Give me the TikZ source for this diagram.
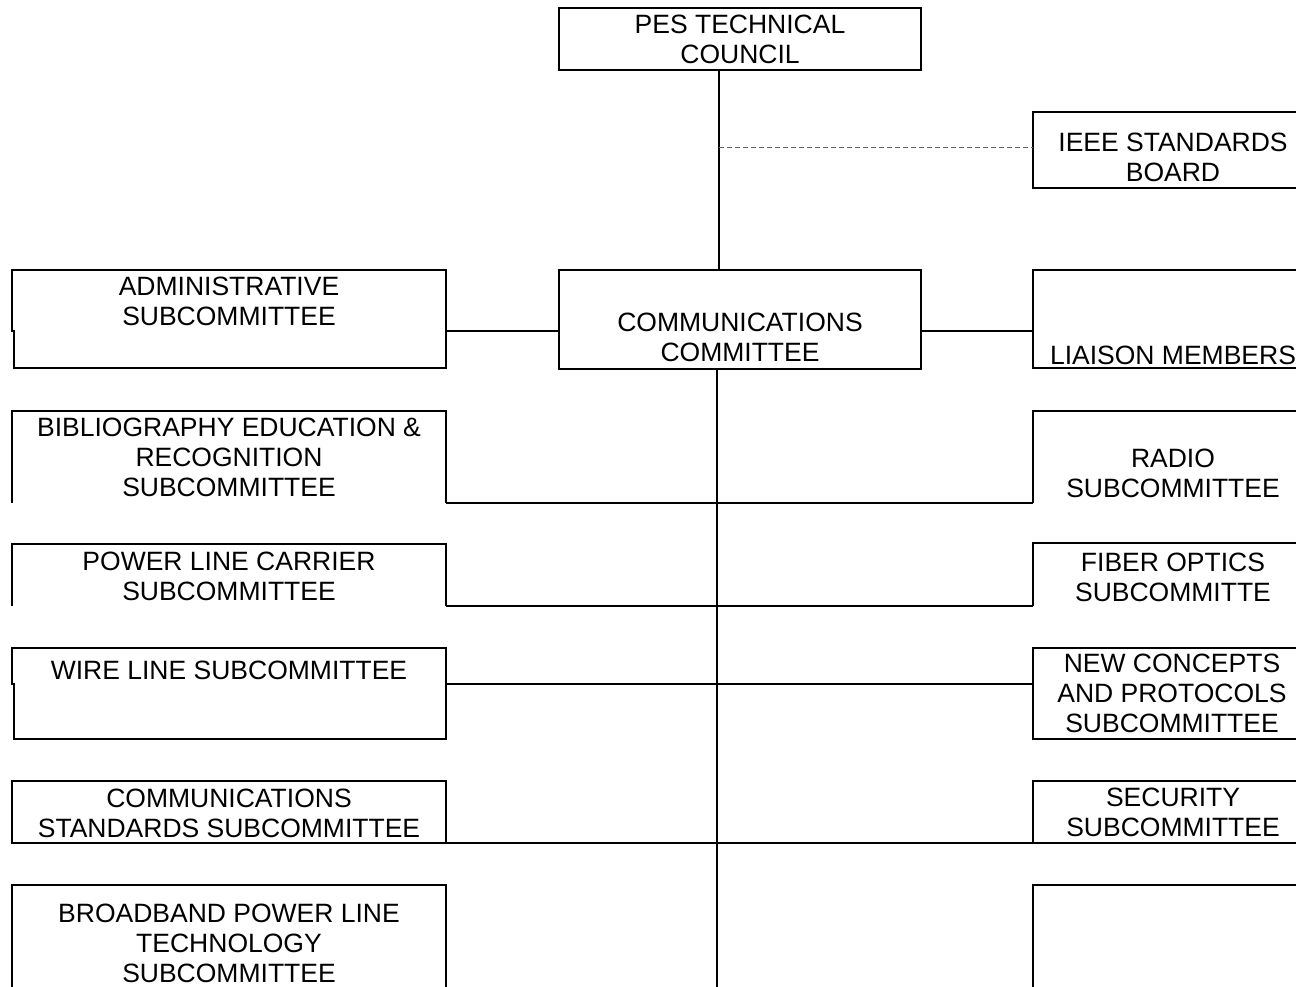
\documentclass[tikz,border=0pt]{standalone}
\usepackage{fontspec}
\setmainfont{Liberation Sans}
\begin{document}
\begin{tikzpicture}[x=1pt,y=-1pt,
  boxn/.style={rectangle, draw, line width=2.1pt, inner sep=0pt, outer sep=0pt},
  openbox/.style={rectangle, inner sep=0pt, outer sep=0pt},
  outline/.style={line width=2.1pt, line join=miter},
  conn/.style={line width=2.1pt},
  dashconn/.style={dash pattern=on 5pt off 3pt, line width=1pt, black!60},
  lbl/.style={align=center, inner sep=0pt, outer sep=0pt, font=\fontsize{26.5}{30}\selectfont}]
\useasboundingbox (0,0) rectangle (1296,987);
\clip (0,0) rectangle (1296,987);

% ---------- boxes ----------
\node[boxn, minimum width=362pt, minimum height=62pt] (pes) at (740,39) {};
\node[boxn, minimum width=362pt, minimum height=99pt] (comm) at (740,319.5) {};
\node[boxn, minimum width=280pt, minimum height=76pt] (ieee) at (1173,150) {};
\node[boxn, minimum width=280pt, minimum height=98pt] (liaison) at (1173,319) {};
\node[openbox, minimum width=434pt, minimum height=98pt] (admin) at (229,319) {};
\node[openbox, minimum width=434pt, minimum height=92pt] (bib) at (229,457) {};
\node[openbox, minimum width=434pt, minimum height=62pt] (plc) at (229,575) {};
\node[openbox, minimum width=434pt, minimum height=91pt] (wire) at (229,693.5) {};
\node[boxn, minimum width=434pt, minimum height=62pt] (cstd) at (229,812) {};
\node[boxn, minimum width=434pt, minimum height=116pt] (bpl) at (229,943) {};
\node[openbox, minimum width=280pt, minimum height=92pt] (radio) at (1173,457) {};
\node[openbox, minimum width=280pt, minimum height=63pt] (fiber) at (1173,574.5) {};
\node[boxn, minimum width=280pt, minimum height=91pt] (newc) at (1173,693.5) {};
\node[boxn, minimum width=280pt, minimum height=62pt] (sec) at (1173,812) {};
\node[boxn, minimum width=280pt, minimum height=116pt] (empty) at (1173,943) {};

% outlines of the boxes that are drawn open or with a step on the left
\draw[outline] (12,331) -- (12,270) -- (446,270) -- (446,368) -- (14,368) -- (14,331) -- cycle;
\draw[outline] (12,684) -- (12,648) -- (446,648) -- (446,739) -- (14,739) -- (14,684) -- cycle;
\draw[outline] (bib.south west) |- (bib.north east) -- (bib.south east);
\draw[outline] (plc.south west) |- (plc.north east) -- (plc.south east);
\draw[outline] (radio.south west) |- (radio.north east);
\draw[outline] (fiber.south west) |- (fiber.north east);

% ---------- texts ----------
\node[lbl] (pesT) at (740,39.5) {PES TECHNICAL\\COUNCIL};
\node[lbl] (commT) at (740,337) {COMMUNICATIONS\\COMMITTEE};
\node[lbl] (ieeeT) at (1173,157) {IEEE STANDARDS\\BOARD};
\node[lbl] (liaisonT) at (1173,355.5) {LIAISON MEMBERS};
\node[lbl] (adminT) at (229,301) {ADMINISTRATIVE\\SUBCOMMITTEE};
\node[lbl] (bibT) at (229,457.5) {BIBLIOGRAPHY EDUCATION \&\\RECOGNITION\\SUBCOMMITTEE};
\node[lbl] (plcT) at (229,576) {POWER LINE CARRIER\\SUBCOMMITTEE};
\node[lbl] (wireT) at (229,670) {WIRE LINE SUBCOMMITTEE};
\node[lbl] (cstdT) at (229,813) {COMMUNICATIONS\\STANDARDS SUBCOMMITTEE};
\node[lbl] (bplT) at (229,943) {BROADBAND POWER LINE\\TECHNOLOGY\\SUBCOMMITTEE};
\node[lbl] (radioT) at (1173,473) {RADIO\\SUBCOMMITTEE};
\node[lbl] (fiberT) at (1173,577) {FIBER OPTICS\\SUBCOMMITTE};
\node[lbl] (newcT) at (1172,693) {NEW CONCEPTS\\AND PROTOCOLS\\SUBCOMMITTEE};
\node[lbl] (secT) at (1173,812.5) {SECURITY\\SUBCOMMITTEE};

% ---------- connectors ----------
\coordinate (rowA) at (0,331);
\coordinate (rowW) at (0,684);
\coordinate (trunkend) at (717,987);
\draw[conn] ([xshift=-21pt]pes.south) -- ([xshift=-21pt]comm.north);
\draw[dashconn] ([xshift=-21pt]pes.south |- 0,148) -- (ieee.west |- 0,148);
\draw[conn] (admin.east |- rowA) -- (comm.west |- rowA);
\draw[conn] (comm.east |- rowA) -- (liaison.west |- rowA);
\draw[conn] ([xshift=-23pt]comm.south) -- (trunkend);
\draw[conn] (bib.south east) -- (radio.south west);
\draw[conn] (plc.south east) -- (fiber.south west);
\draw[conn] (wire.east |- rowW) -- (newc.west |- rowW);
\draw[conn] (cstd.south east) -- (sec.south west);
\end{tikzpicture}
\end{document}
